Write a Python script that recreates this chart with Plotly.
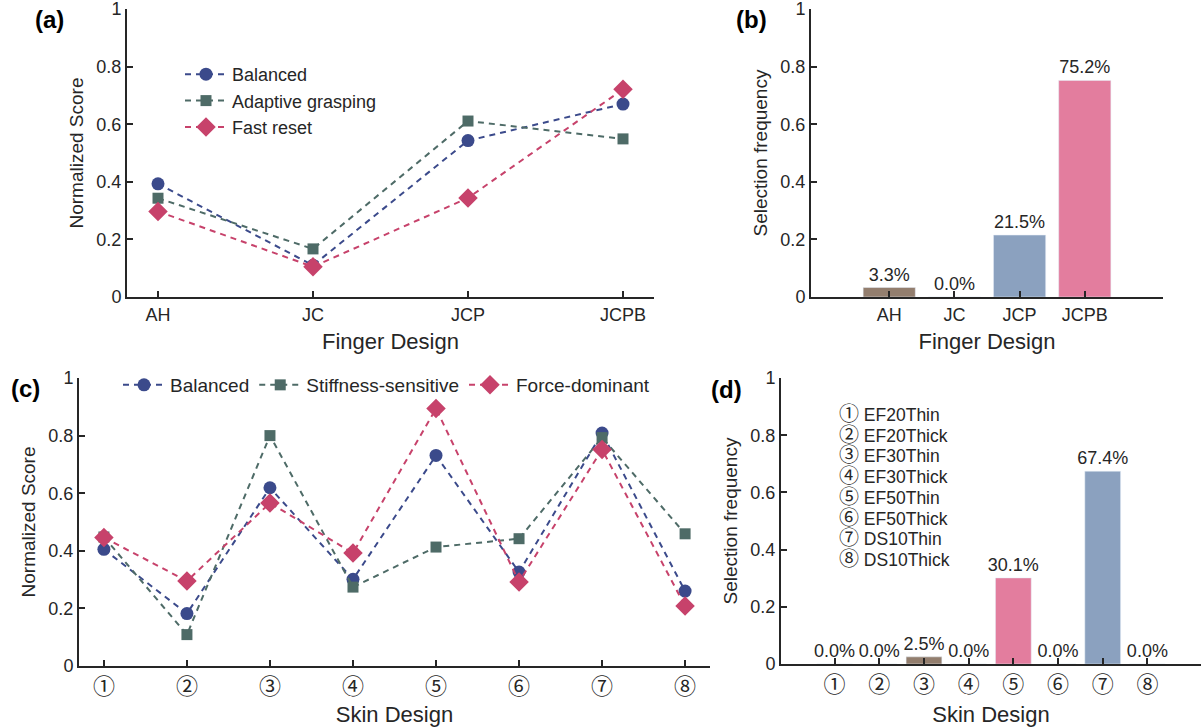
import plotly.graph_objects as go

# ---------------- data ----------------
finger_designs = ["AH", "JC", "JCP", "JCPB"]
finger_balanced = [0.393, 0.110, 0.543, 0.670]
finger_adaptive = [0.343, 0.167, 0.611, 0.549]
finger_fast = [0.297, 0.105, 0.344, 0.721]
finger_freq = [0.033, 0.000, 0.215, 0.752]

skin_designs = ["①", "②", "③", "④", "⑤", "⑥", "⑦", "⑧"]
skin_names = ["EF20Thin", "EF20Thick", "EF30Thin", "EF30Thick",
              "EF50Thin", "EF50Thick", "DS10Thin", "DS10Thick"]
skin_balanced = [0.405, 0.182, 0.619, 0.301, 0.731, 0.326, 0.809, 0.260]
skin_stiffness = [0.448, 0.109, 0.800, 0.274, 0.413, 0.442, 0.793, 0.459]
skin_force = [0.446, 0.295, 0.566, 0.392, 0.894, 0.292, 0.752, 0.208]
skin_freq = [0.000, 0.000, 0.025, 0.000, 0.301, 0.000, 0.674, 0.000]

y_ticks = [0, 0.2, 0.4, 0.6, 0.8, 1]
y_ticktext = ["0", "0.2", "0.4", "0.6", "0.8", "1"]

# ---------------- style ----------------
W, H = 1201, 727
C_BAL = "#3B4A8B"
C_GRN = "#4E6B67"
C_RED = "#C7426B"
C_BROWN = "#937E6E"
C_BLUE = "#8BA1BF"
C_PINK = "#E37D9E"
AX = "#262626"
FONT = "Liberation Sans, Arial, Noto Sans CJK SC, DejaVu Sans"

finger_colors = [C_BROWN, C_BLUE, C_BLUE, C_PINK]
skin_colors = [C_BROWN, C_BROWN, C_BROWN, C_BROWN, C_PINK, C_BLUE, C_BLUE, C_BLUE]


def px_x(p):
    return p / W


def px_y(p):
    return 1 - p / H


fig = go.Figure()


def line_trace(x, y, name, symbol, size, color, xa, ya, leg):
    return go.Scatter(x=x, y=y, name=name, mode="lines+markers",
                      marker=dict(symbol=symbol, size=size, color=color),
                      line=dict(color=color, width=2, dash="6px,5px"),
                      xaxis=xa, yaxis=ya, legend=leg)


# panel (a)
fig.add_trace(line_trace(finger_designs, finger_balanced, "Balanced", "circle", 13, C_BAL, "x", "y", "legend"))
fig.add_trace(line_trace(finger_designs, finger_adaptive, "Adaptive grasping", "square", 11, C_GRN, "x", "y", "legend"))
fig.add_trace(line_trace(finger_designs, finger_fast, "Fast reset", "diamond", 15, C_RED, "x", "y", "legend"))

# panel (b)
fig.add_trace(go.Bar(x=finger_designs, y=finger_freq, marker=dict(color=finger_colors),
                     width=0.8, texttemplate="%{y:.1%}", textposition="outside",
                     constraintext="none",
                     textfont=dict(size=18, color=AX, family=FONT), cliponaxis=False,
                     showlegend=False, xaxis="x2", yaxis="y2"))

# panel (c)
fig.add_trace(line_trace(skin_designs, skin_balanced, "Balanced", "circle", 13, C_BAL, "x3", "y3", "legend2"))
fig.add_trace(line_trace(skin_designs, skin_stiffness, "Stiffness-sensitive", "square", 11, C_GRN, "x3", "y3", "legend2"))
fig.add_trace(line_trace(skin_designs, skin_force, "Force-dominant", "diamond", 15, C_RED, "x3", "y3", "legend2"))

# panel (d)
fig.add_trace(go.Bar(x=skin_designs, y=skin_freq, marker=dict(color=skin_colors),
                     width=0.8, texttemplate="%{y:.1%}", textposition="outside",
                     constraintext="none",
                     textfont=dict(size=18, color=AX, family=FONT), cliponaxis=False,
                     showlegend=False, xaxis="x4", yaxis="y4"))

axis_common = dict(showline=True, linecolor=AX, linewidth=2, ticks="inside",
                   ticklen=6, tickwidth=1.5, tickcolor=AX, showgrid=False,
                   zeroline=False, tickfont=dict(size=18, color=AX, family=FONT),
                   fixedrange=True, automargin=False, ticklabeloverflow="allow")


def xaxis(domain, rng, anchor, title, tsize=18):
    d = dict(axis_common)
    d.update(domain=domain, range=rng, anchor=anchor, type="category",
             title=dict(text=title, font=dict(size=22, color=AX, family=FONT), standoff=10),
             tickfont=dict(size=tsize, color=AX, family=FONT))
    return d


def yaxis(domain, anchor, title):
    d = dict(axis_common)
    d.update(domain=domain, range=[0, 1], anchor=anchor, tickvals=y_ticks,
             ticktext=y_ticktext,
             title=dict(text=title, font=dict(size=19, color=AX, family=FONT), standoff=8))
    return d


top_dom = [px_y(297), px_y(9)]
bot_dom = [px_y(666), px_y(378)]

fig.update_layout(
    width=W, height=H,
    margin=dict(l=0, r=0, t=0, b=0, autoexpand=False),
    paper_bgcolor="white", plot_bgcolor="white",
    font=dict(family=FONT, color=AX, size=18),
    xaxis=xaxis([px_x(127), px_x(654)], [-0.2, 3.2], "y", "Finger Design"),
    yaxis=yaxis(top_dom, "x", "Normalized Score"),
    xaxis2=xaxis([px_x(811), px_x(1163)], [-1.2, 4.2], "y2", "Finger Design"),
    yaxis2=yaxis(top_dom, "x2", "Selection frequency"),
    xaxis3=xaxis([px_x(79), px_x(710)], [-0.3, 7.3], "y3", "Skin Design", 22),
    yaxis3=yaxis(bot_dom, "x3", "Normalized Score"),
    xaxis4=xaxis([px_x(781), 1.0], [-1.2, 8.2], "y4", "Skin Design", 22),
    yaxis4=yaxis([px_y(664), px_y(378)], "x4", "Selection frequency"),
    legend=dict(x=px_x(180), y=px_y(56), xanchor="left", yanchor="top",
                bgcolor="rgba(0,0,0,0)", font=dict(size=18, color=AX, family=FONT),
                tracegroupgap=0, itemwidth=42),
    legend2=dict(x=px_x(118), y=px_y(366), xanchor="left", yanchor="top",
                 orientation="h", bgcolor="rgba(0,0,0,0)",
                 font=dict(size=19, color=AX, family=FONT), itemwidth=42),
    bargap=0.2,
)

# panel labels
for lab, x, y in [("(a)", 49, 20), ("(b)", 751, 20), ("(c)", 25, 388), ("(d)", 726, 389)]:
    fig.add_annotation(text="<b>%s</b>" % lab, x=px_x(x), y=px_y(y), xref="paper", yref="paper",
                       showarrow=False, xanchor="center", yanchor="middle",
                       font=dict(size=24, color="black", family=FONT))

# skin design key in panel (d)
for i, (sym, nm) in enumerate(zip(skin_designs, skin_names)):
    fig.add_annotation(text="<span style='font-size:20px'>%s</span> %s" % (sym, nm),
                       x=px_x(837), y=px_y(414 + i * 20.7),
                       xref="paper", yref="paper", showarrow=False,
                       xanchor="left", yanchor="middle",
                       font=dict(size=17.5, color=AX, family=FONT))

fig.write_html("out.html", config={"displayModeBar": False},
               post_script="document.body.style.margin='0';document.body.style.overflow='hidden';")
